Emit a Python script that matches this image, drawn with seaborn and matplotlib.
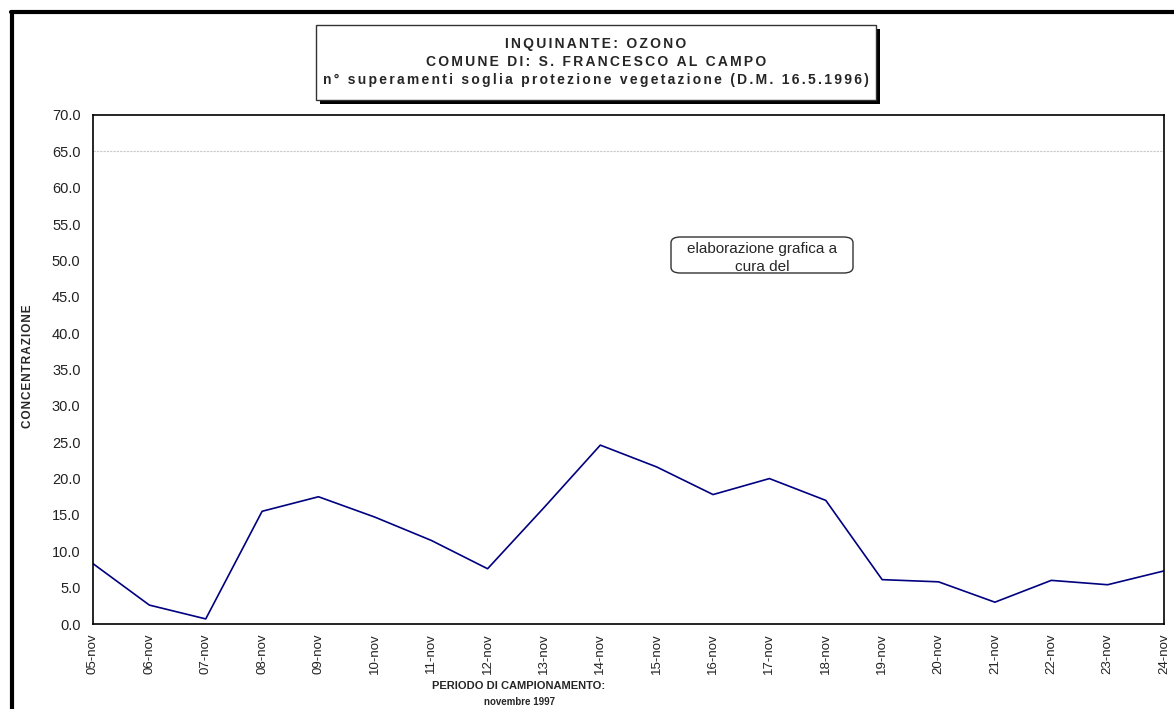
import pandas as pd
import matplotlib
matplotlib.use("Agg")
import matplotlib.pyplot as plt
import seaborn as sns
from matplotlib.patches import Rectangle, FancyBboxPatch
from matplotlib.lines import Line2D

# data
days = ["05-nov", "06-nov", "07-nov", "08-nov", "09-nov", "10-nov", "11-nov",
        "12-nov", "13-nov", "14-nov", "15-nov", "16-nov", "17-nov", "18-nov",
        "19-nov", "20-nov", "21-nov", "22-nov", "23-nov", "24-nov"]
concentration = [8.3, 2.6, 0.7, 15.5, 17.5, 14.7, 11.5, 7.6, 16.0, 24.6,
                 21.6, 17.8, 20.0, 17.0, 6.1, 5.8, 3.0, 6.0, 5.4, 7.3]
threshold = 65.0
y_ticks = [i * 5.0 for i in range(15)]

title_lines = ["INQUINANTE: OZONO",
               "COMUNE DI: S. FRANCESCO AL CAMPO",
               "n° superamenti soglia protezione vegetazione (D.M. 16.5.1996)"]

df = pd.DataFrame({"giorno": days, "valore": concentration})
df["pos"] = range(len(df))

sns.set_style("white")
plt.rcParams["font.family"] = ["Liberation Sans", "DejaVu Sans"]

W, H = 1174, 709
fig = plt.figure(figsize=(W / 100, H / 100), dpi=100)


def fx(px):
    return px / W


def fy(py):
    return 1 - py / H


def spaced(s, gap="\u200a"):
    # excel-like loose letter spacing
    return gap.join(s)


ax = fig.add_axes([fx(93), fy(624), fx(1164) - fx(93), fy(115) - fy(624)])

sns.lineplot(data=df, x="pos", y="valore", ax=ax, color="#000080", linewidth=1.2)
ax.axhline(threshold, color="#c8c8c8", linewidth=0.8, linestyle=(0, (2, 1)))

ax.set_xlim(0, len(days) - 1)
ax.set_ylim(0, 70)
ax.set_xticks(df["pos"])
ax.set_xticklabels(days, rotation=90, fontsize=9.5)
ax.set_yticks(y_ticks)
ax.set_yticklabels([f"{v:.1f}" for v in y_ticks], fontsize=10.5)
ax.tick_params(axis="both", direction="out", length=4, width=1, color="black",
               labelcolor="#222222", pad=5)
ax.tick_params(axis="x", length=0, pad=7)
ax.set_xlabel("")
ax.set_ylabel("")
for s in ax.spines.values():
    s.set_color("black")
    s.set_linewidth(1.2)

# axis titles
fig.text(fx(28), fy(366), spaced("CONCENTRAZIONE"), rotation=90, ha="center", va="center",
         fontsize=8.5, fontweight="bold")
fig.text(fx(519), fy(686), "PERIODO DI CAMPIONAMENTO:", ha="center", va="center",
         fontsize=8, fontweight="bold")
fig.text(fx(519), fy(702), "novembre 1997", ha="center", va="center",
         fontsize=7, fontweight="bold")

# title box with shadow
bx0, by0, bx1, by1 = 316, 25, 876, 100
fig.add_artist(Rectangle((fx(bx0 + 4), fy(by1 + 4)), fx(bx1) - fx(bx0), fy(by0) - fy(by1),
                         transform=fig.transFigure, facecolor="black", edgecolor="none"))
fig.add_artist(Rectangle((fx(bx0), fy(by1)), fx(bx1) - fx(bx0), fy(by0) - fy(by1),
                         transform=fig.transFigure, facecolor="white", edgecolor="#333333",
                         linewidth=1))
for i, line in enumerate(title_lines):
    fig.text(fx((bx0 + bx1) / 2), fy(44 + 18 * i), spaced(line, "\u2006"), ha="center",
             va="center", fontsize=10, fontweight="bold")

# annotation box
fig.add_artist(FancyBboxPatch((fx(671), fy(273)), fx(853) - fx(671), fy(237) - fy(273),
                              boxstyle="round,pad=0,rounding_size=0.008",
                              transform=fig.transFigure, facecolor="white",
                              edgecolor="#333333", linewidth=1))
fig.text(fx(762), fy(258), "elaborazione grafica a\ncura del",
         ha="center", va="center", fontsize=11, linespacing=1.3)

# outer frame
fig.add_artist(Line2D([fx(12), fx(12)], [fy(12), 0], transform=fig.transFigure,
                      color="black", linewidth=3))
fig.add_artist(Line2D([fx(11), 1], [fy(12), fy(12)], transform=fig.transFigure,
                      color="black", linewidth=3))

fig.savefig("out.png", dpi=100)
